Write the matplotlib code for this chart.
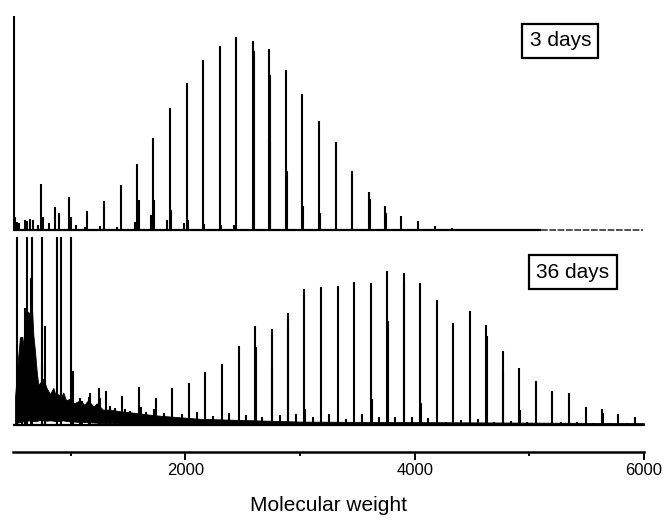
import matplotlib
matplotlib.use("Agg")
import matplotlib.pyplot as plt
from matplotlib.ticker import FixedLocator

plt.rcParams['font.family'] = ['Liberation Sans', 'DejaVu Sans']

# ---------------- data: 3 days (relative intensity) ----------------
top_mass = [503, 739, 863, 901, 986, 1146, 1293, 1436, 1578, 1720, 1866, 2012,
            2155, 2302, 2444, 2590, 2732, 2877, 3019, 3165, 3310, 3455, 3601,
            3743, 3883, 4031, 4177, 4322, 4467]
top_int = [110.9, 23.8, 11.9, 8.8, 17.1, 9.8, 15.0, 23.3, 34.2, 47.7, 63.2, 76.0,
           87.9, 95.5, 100.0, 98.1, 93.9, 83.1, 70.5, 56.6, 45.4, 30.7, 19.5,
           12.4, 7.3, 4.5, 2.2, 1.2, 0.7]
top_minor_mass = [515, 532, 554, 598, 619, 648, 674, 713, 759, 811, 1003, 1047,
                  1125, 1256, 1404, 1561, 1592, 1701, 1730, 1840, 1875, 1989, 2023,
                  2160, 2308, 2424, 2598, 2738, 2742, 2883, 3025, 3171, 3607, 3749]
top_minor_int = [6.7, 4.1, 3.6, 5.2, 4.7, 5.7, 5.2, 2.6, 6.7, 3.6, 6.7, 2.6,
                 1.6, 2.1, 1.6, 4.1, 15.5, 7.8, 15.5, 5.2, 10.4, 3.6, 5.2,
                 3.3, 2.6, 2.7, 92.7, 80.3, 45.6, 30.6, 12.4, 8.6, 15.9, 8.6]

# ---------------- data: 36 days (relative intensity) ----------------
bot_mass = [530, 573, 602, 617, 652, 663, 748, 753, 776, 881, 919, 1000, 1023,
            1082, 1163, 1250, 1308, 1450, 1596, 1742, 1886, 2028, 2174, 2320,
            2465, 2608, 2753, 2893, 3038, 3183, 3329, 3474, 3619, 3761, 3904,
            4046, 4192, 4337, 4483, 4625, 4768, 4912, 5058, 5200, 5346, 5491,
            5633, 5776, 5921]
bot_int = [140, 57.2, 75.8, 140, 95.5, 140, 38.9, 140, 64.2, 140, 140, 140, 35.0,
           17.5, 18.3, 24.0, 22.2, 19.0, 24.8, 17.5, 24.0, 27.5, 34.5, 39.5,
           51.0, 64.4, 62.0, 72.6, 88.0, 89.2, 89.9, 92.5, 91.8, 100.0, 98.3,
           91.8, 81.0, 66.3, 73.9, 64.8, 48.0, 37.1, 28.7, 21.8, 20.5, 11.5,
           10.2, 7.1, 5.0]
bot_minor_mass = [1098, 1170, 1256, 1346, 1389, 1478, 1519, 1613, 1658, 1731,
                  1818, 1973, 2099, 2244, 2384, 2529, 2616, 2671, 2759, 2826,
                  2899, 2965, 3044, 3111, 3256, 3398, 3543, 3625, 3689, 3767,
                  3828, 3910, 3974, 4052, 4119, 4273, 4404, 4555, 4631, 4692,
                  4774, 4837, 4918, 4982, 5130, 5276, 5413, 5558, 5639, 5703, 5849]
bot_minor_int = [15.3, 20.7, 17.5, 12.1, 10.8, 10.1, 8.9, 11.7, 8.6, 10.3,
                 7.8, 7.3, 8.4, 5.8, 8.0, 6.3, 50.4, 5.0, 38.9, 6.5,
                 67.0, 7.1, 10.2, 5.4, 7.1, 4.1, 6.9, 16.9, 5.0, 67.6,
                 5.4, 92.9, 5.0, 14.1, 4.7, 2.1, 3.2, 3.9, 57.9, 2.1,
                 35.0, 2.8, 9.7, 2.1, 1.5, 2.1, 2.1, 1.1, 7.8, 1.1, 1.1]
# dense low-mass noise floor of the 36-day spectrum (upper / lower edge)
noise_mass = [515, 540, 558, 575, 587, 600, 617, 640, 660, 675, 689, 705, 718,
              740, 762, 790, 820, 849, 870, 892, 915, 936, 960, 994, 1030, 1082,
              1120, 1151, 1200, 1227, 1280, 1343, 1420, 1544, 1650, 1779, 2128,
              3000, 6000]
noise_hi = [18, 42, 57, 48, 55, 62, 74, 72, 80, 58, 48, 34, 26,
            28, 30, 24, 20, 24, 19, 20, 18, 21, 16, 17, 14, 16,
            13, 16, 12, 14, 10, 10, 9, 8, 7, 6, 4,
            2.2, 1.2]
noise_lo = [0.6, 1.6, 2.0, 2.2, 2.4, 2.6, 2.8, 3.0, 3.0, 2.6, 2.4, 2.6, 3.0,
            3.2, 3.0, 2.8, 3.0, 2.8, 2.4, 2.6, 2.8, 3.0, 2.6, 2.4, 2.2, 2.0,
            2.0, 1.8, 1.6, 1.5, 1.3, 1.2, 1.0, 0.6, 0.3, 0.0, 0.0,
            0.0, 0.0]

labels = ["3 days", "36 days"]
xticks_major = [2000, 4000, 6000]
xticks_minor = [1000, 3000, 5000]
x_min, x_max = 500, 6000

# ---------------- figure ----------------
W, H = 666, 521
fig = plt.figure(figsize=(W / 100, H / 100), dpi=100)

def frac(l, r, t, b):
    return [l / W, 1 - b / H, (r - l) / W, (b - t) / H]

ax1 = fig.add_axes(frac(13.3, 644, 14, 233))
ax2 = fig.add_axes(frac(13.3, 644, 237, 452))

lw = 1.5
# top spectrum
ax1.vlines(top_mass, 0, top_int, color='black', lw=lw)
ax1.vlines(top_minor_mass, 0, top_minor_int, color='black', lw=lw)
ax1.plot([x_min, 5100], [0, 0], color='black', lw=1.6, solid_capstyle='butt')
ax1.plot([5100, 5990], [0, 0], color='#333333', lw=1.2, ls=(0, (4, 1)))
ax1.set_xlim(x_min, x_max)
ax1.set_ylim(-1.55, 111.9)
ax1.axis('off')

# bottom spectrum
ax2.fill_between(noise_mass, noise_lo, noise_hi, color='black', lw=0.6,
                 edgecolor='black')
ax2.vlines(bot_mass, 0, bot_int, color='black', lw=lw)
ax2.vlines(bot_minor_mass, 0, bot_minor_int, color='black', lw=lw)
ax2.plot([x_min, 5990], [0, 0], color='black', lw=1.6, solid_capstyle='butt')
ax2.set_xlim(x_min, x_max)
ax2.set_ylim(-17.5, 121.8)
for s in ['top', 'left', 'right']:
    ax2.spines[s].set_visible(False)
ax2.spines['bottom'].set_linewidth(1.8)
ax2.set_yticks([])
ax2.xaxis.set_major_locator(FixedLocator(xticks_major))
ax2.xaxis.set_minor_locator(FixedLocator(xticks_minor))
ax2.tick_params(axis='x', which='major', direction='out', length=6, width=1.4,
                labelsize=12, pad=2)
ax2.tick_params(axis='x', which='minor', direction='out', length=3.2, width=1.4)
ax2.set_xlabel("Molecular weight", fontsize=15, labelpad=13)

# panel labels
box = dict(boxstyle='square,pad=0.35', fc='white', ec='black', lw=1.6)
fig.text(560.3 / W, 1 - 41 / H, labels[0], fontsize=15, ha='center', va='center',
         bbox=box)
fig.text(573 / W, 1 - 272 / H, labels[1], fontsize=15, ha='center', va='center',
         bbox=box)

fig.savefig("out.png", dpi=100)
